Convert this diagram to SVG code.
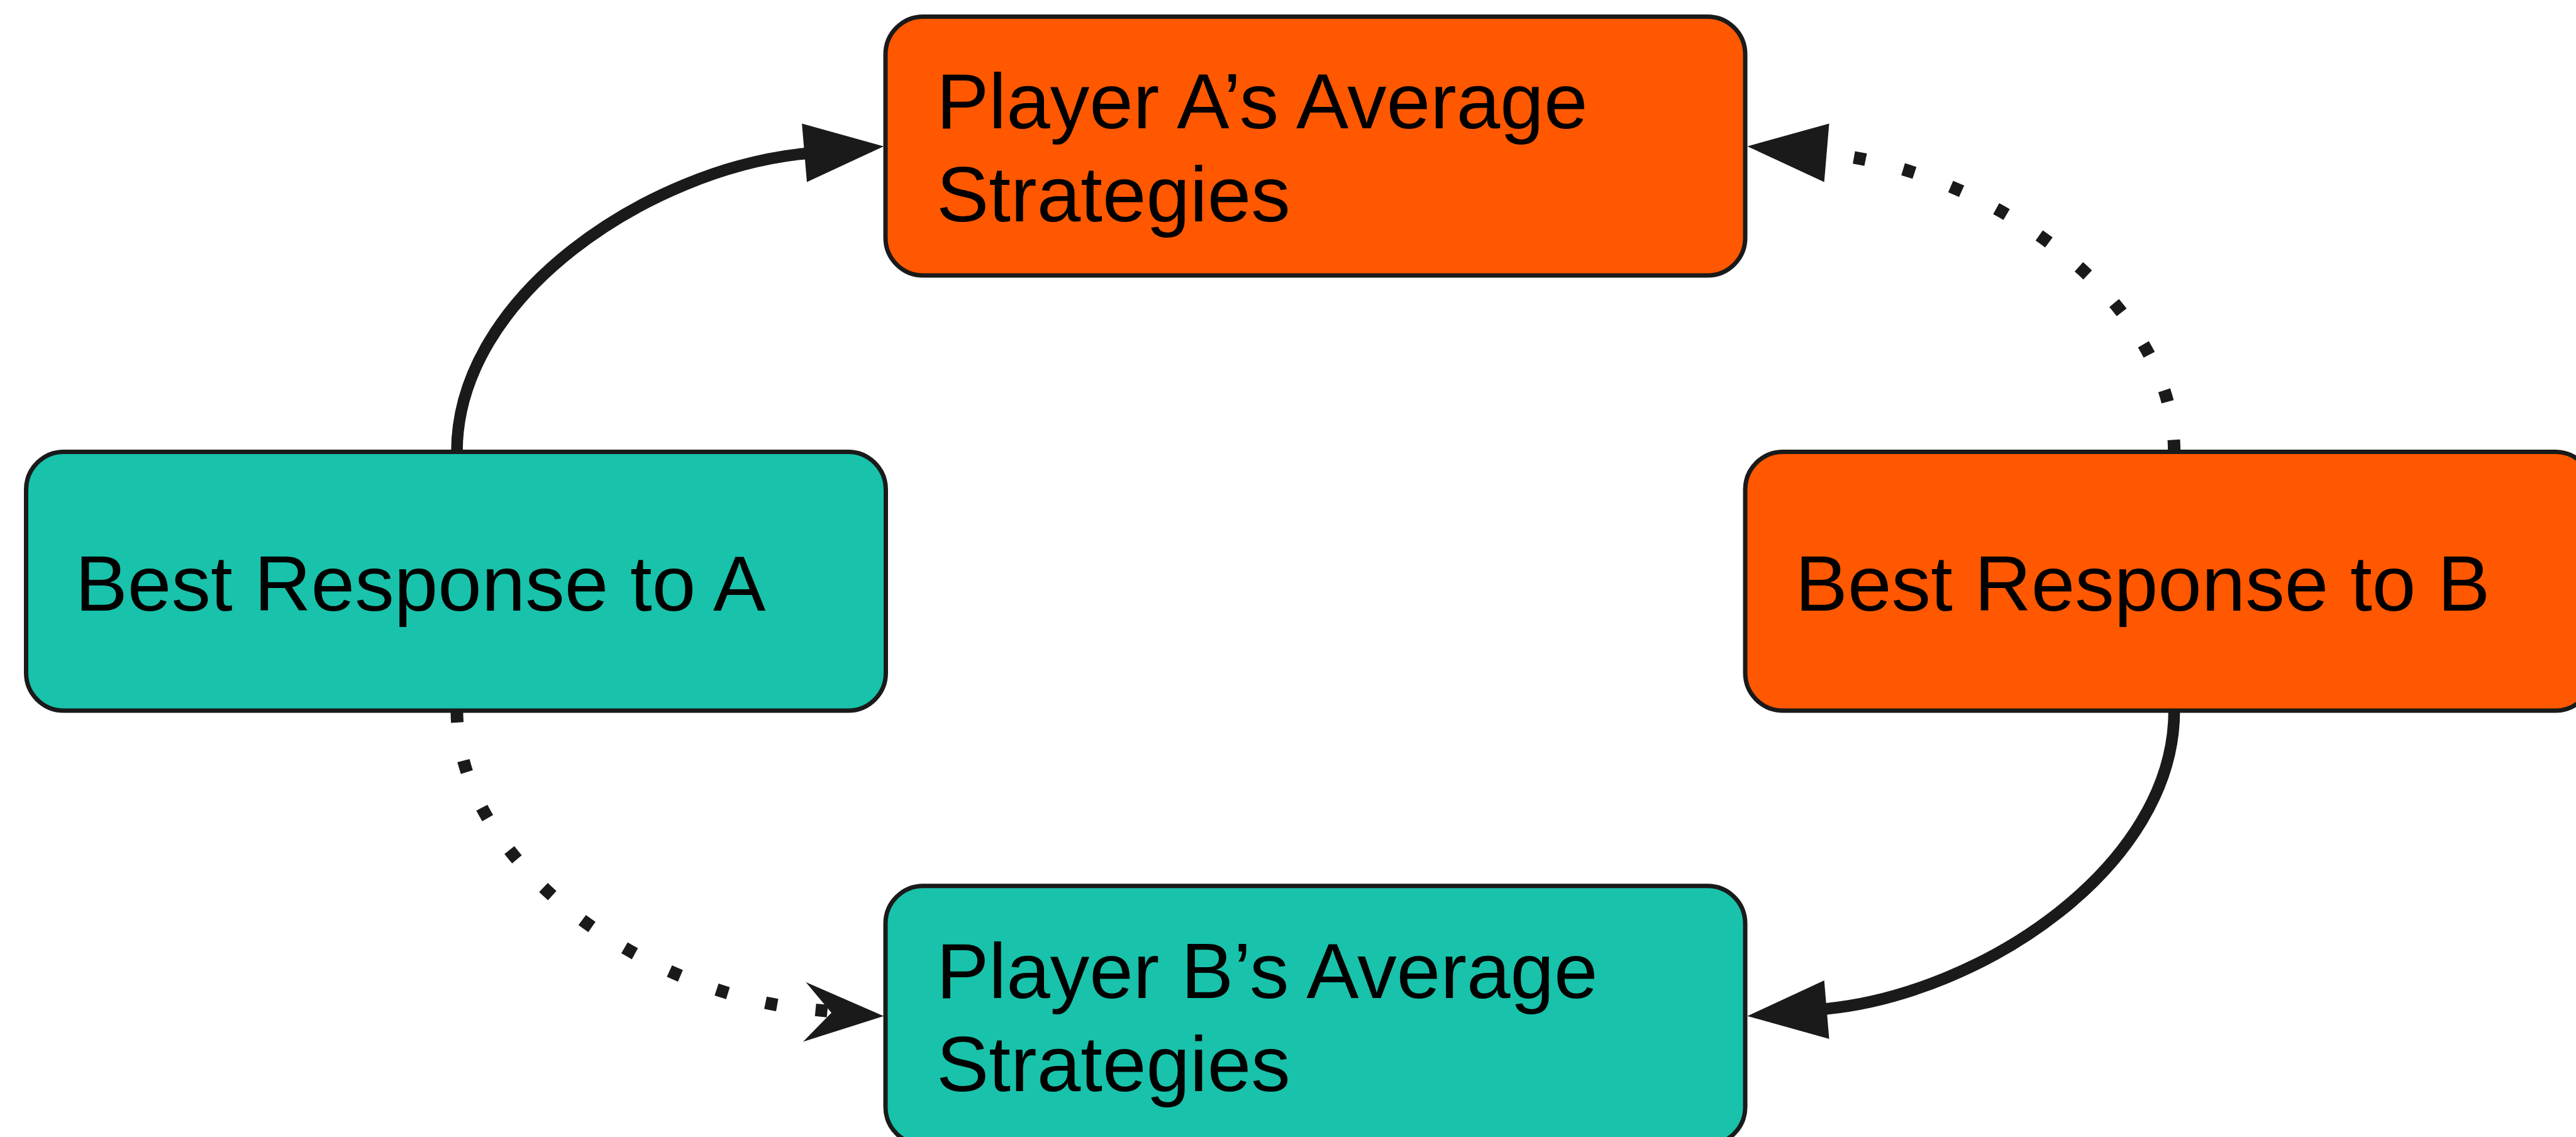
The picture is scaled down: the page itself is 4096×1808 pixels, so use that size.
<svg xmlns="http://www.w3.org/2000/svg" width="4096" height="1808" viewBox="0 0 4096 1808">
  <style>
    .node rect { stroke: #1a1a1a; stroke-width: 7; }
    .orange rect { fill: #FF5800; }
    .teal rect { fill: #19C2AA; }
    .label { font-family: "Liberation Sans", Arial, Helvetica, sans-serif; font-size: 125px; fill: #000000; }
    .solid { fill: none; stroke: #1a1a1a; stroke-width: 18.6; }
    .dotted { fill: none; stroke: #1a1a1a; stroke-width: 20; stroke-dasharray: 19 61.5; stroke-linecap: butt; }
    .head { fill: #1a1a1a; stroke: none; }
  </style>
  <rect x="0" y="0" width="4096" height="1808" fill="#ffffff"/>

  <g id="connectors">
    <!-- Best Response to A -> Player A's Average Strategies (solid) -->
    <path class="solid" d="M 726.5 718.5 C 726.5 469.9 1031.7 269 1279.5 244.2 L 1340 238"/>
    <polygon class="head" points="1405.2,232.7 1275.1,196.4 1283.0,289.4"/>

    <!-- Best Response to B -> Player A's Average Strategies (dotted) -->
    <path class="dotted" d="M 3457.1 718.5 C 3457.1 469.9 3151.9 269 2904.1 244.2 L 2880 242"/>
    <polygon class="head" points="2778.4,232.7 2908.5,196.4 2900.6,289.4"/>

    <!-- Best Response to B -> Player B's Average Strategies (solid) -->
    <path class="solid" d="M 3457.1 1129.9 C 3457.1 1378.5 3151.9 1579.4 2904.1 1604.2 L 2843 1610"/>
    <polygon class="head" points="2778.4,1615.7 2908.5,1652 2900.6,1559"/>

    <!-- Best Response to A -> Player B's Average Strategies (dotted) -->
    <path class="dotted" d="M 726.5 1129.9 C 726.5 1378.5 1031.7 1579.4 1279.5 1604.2 L 1318 1608"/>
    <polygon class="head" points="1405.2,1615.7 1281.3,1561.8 1322,1610.4 1276.9,1656.5"/>
  </g>

  <g id="node-player-a" class="node orange">
    <rect x="1408" y="26.5" width="1367" height="411.5" rx="60" ry="60"/>
    <text class="label" x="1489" y="203.5">Player A’s Average</text>
    <text class="label" x="1489" y="352.2">Strategies</text>
  </g>

  <g id="node-best-response-a" class="node teal">
    <rect x="41.5" y="718.5" width="1367" height="411.5" rx="60" ry="60"/>
    <text class="label" x="119.5" y="970.7">Best Response to A</text>
  </g>

  <g id="node-best-response-b" class="node orange">
    <rect x="2775" y="718.5" width="1348" height="411.5" rx="60" ry="60"/>
    <text class="label" x="2854.6" y="970.7">Best Response to B</text>
  </g>

  <g id="node-player-b" class="node teal">
    <rect x="1408" y="1408.7" width="1367" height="411.5" rx="60" ry="60"/>
    <text class="label" x="1489" y="1586.6">Player B’s Average</text>
    <text class="label" x="1489" y="1735.3">Strategies</text>
  </g>
</svg>
